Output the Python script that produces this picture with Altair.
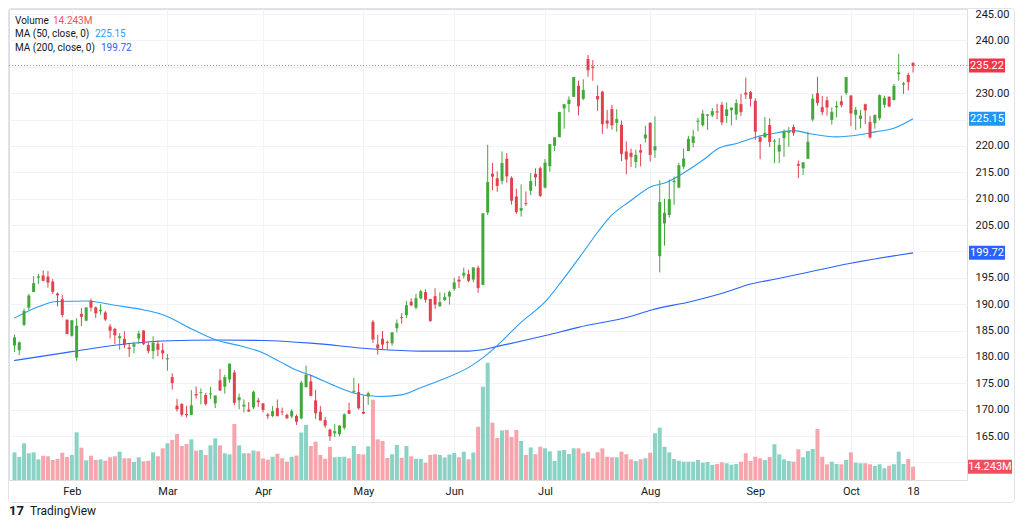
import altair as alt
import pandas as pd

# ---------------- data ----------------
opens = [182.16,181.27,186.09,189.33,192.30,195.02,195.42,195.22,194.27,192.01,190.94,187.04,
 183.99,179.86,188.15,186.86,190.64,189.39,188.65,188.42,185.77,185.32,183.55,183.42,181.79,181.94,183.48,185.01,182.24,181.10,182.51,181.27,
 179.55,176.15,170.76,171.06,169.15,169.00,172.94,173.15,172.77,172.91,171.17,175.57,174.34,175.72,177.05,171.76,170.57,170.00,170.41,171.75,
 171.19,169.08,168.79,170.29,169.59,169.03,168.70,168.80,168.34,174.26,175.36,171.75,169.61,168.03,166.21,165.52,165.35,166.54,169.88,173.37,173.33,
 169.58,172.51,186.65,182.35,183.45,182.85,182.56,185.44,187.51,187.91,190.47,189.33,191.09,192.27,190.98,191.51,189.61,190.76,191.44,
 192.90,194.64,195.40,195.69,194.65,196.90,193.65,207.37,214.74,213.85,213.37,217.59,213.93,210.39,207.72,209.15,211.50,214.69,215.77,
 212.09,216.15,220.00,221.65,227.09,227.93,229.30,231.39,228.92,236.48,235.00,229.45,230.28,224.82,227.01,224.37,224.00,218.93,218.70,216.96,219.19,221.44,
 224.37,219.15,199.09,205.30,206.90,213.11,212.10,216.07,219.01,220.57,224.60,223.92,225.72,225.77,226.52,227.79,225.66,226.76,225.95,227.92,230.10,230.19,
 228.55,221.66,221.63,223.95,220.82,218.92,221.46,222.50,223.58,216.54,215.75,217.55,224.99,229.97,227.34,228.65,224.93,227.30,228.46,230.04,
 229.52,225.89,225.14,227.90,224.50,224.30,225.23,227.78,229.30,228.70,233.61,231.60,233.43,235.70]

highs = [184.26,182.93,189.14,191.95,195.33,195.75,196.38,196.27,194.76,192.20,191.80,187.10,
 186.95,187.33,189.25,189.31,191.05,189.54,189.99,188.67,186.21,185.53,184.49,184.85,182.43,182.89,184.96,185.04,182.76,183.92,183.12,182.57,
 180.53,176.90,172.04,171.24,170.73,173.70,174.38,174.03,173.19,174.31,172.62,177.71,176.61,178.67,177.49,173.05,171.94,171.42,173.60,172.23,
 171.25,169.34,170.68,171.92,170.39,169.20,170.08,169.09,175.46,178.36,176.63,173.76,170.65,168.64,166.40,167.26,167.05,169.30,171.34,176.03,174.99,
 172.71,173.42,187.00,184.20,184.90,183.07,184.66,187.10,188.30,190.65,191.10,191.92,192.73,192.82,191.00,193.00,192.25,192.18,192.57,
 194.99,195.32,196.90,196.50,196.94,197.30,207.16,220.20,216.75,215.17,218.95,218.63,214.24,211.89,212.70,211.38,214.86,215.74,216.07,
 217.51,220.38,221.55,226.45,227.85,229.40,233.08,232.39,232.64,237.23,236.27,231.46,230.44,226.80,227.78,226.94,224.80,220.85,219.49,219.30,220.33,223.82,
 224.48,225.60,213.50,209.99,213.64,214.20,216.78,219.51,221.89,223.03,225.35,226.83,225.99,227.17,227.98,228.34,228.22,227.28,228.85,229.86,232.92,230.40,
 229.00,221.78,225.48,225.24,221.27,221.48,223.09,223.55,224.04,217.22,216.90,222.71,229.82,233.09,229.45,229.35,227.29,228.50,229.52,233.00,
 229.65,227.37,226.81,228.00,225.69,225.98,229.75,229.50,229.41,231.73,237.49,232.12,233.85,235.90]

lows = [180.93,180.30,185.83,188.82,192.26,193.83,194.34,193.11,191.94,189.58,187.47,184.35,
 183.82,179.25,185.84,186.77,188.61,187.35,188.00,186.79,183.51,182.44,181.35,181.67,180.00,180.66,182.46,182.23,180.65,179.56,180.13,179.53,
 177.38,173.79,169.62,168.68,168.49,168.94,172.05,171.01,170.76,172.05,170.29,173.52,173.03,175.09,170.84,170.06,169.45,169.58,170.11,170.51,
 169.48,168.23,168.58,168.82,168.95,168.24,168.35,167.11,168.16,174.21,172.50,168.27,168.00,166.55,164.08,164.77,164.92,166.21,169.18,173.10,170.00,
 169.11,170.89,182.66,180.42,181.32,181.45,182.11,184.62,186.29,187.37,189.66,189.01,190.92,190.27,186.63,189.10,189.51,190.63,189.91,
 192.52,193.03,194.87,194.17,194.14,192.15,193.63,206.90,211.60,211.30,212.72,213.00,208.85,207.11,206.59,208.61,210.64,212.35,210.30,
 211.92,215.10,219.03,221.65,223.25,226.37,229.25,225.77,228.68,233.09,232.33,226.64,222.27,223.28,223.09,222.68,217.13,214.62,216.01,215.75,216.12,220.63,
 217.02,217.71,196.00,201.07,206.39,208.83,211.97,215.60,219.01,219.70,222.76,223.65,223.04,225.45,225.05,223.90,224.33,223.89,224.89,225.68,228.88,227.48,
 221.17,217.48,221.52,219.77,216.71,216.73,217.89,219.82,221.91,213.92,214.50,217.54,224.63,227.62,225.81,225.73,224.02,225.41,227.30,229.65,
 223.74,223.02,223.32,224.13,221.33,223.25,224.83,227.17,227.34,228.60,232.37,229.84,230.52,233.90]

closes = [183.63,182.68,188.63,191.56,193.89,195.18,194.50,194.17,192.42,191.73,188.04,184.40,
 186.86,185.85,187.68,189.30,189.41,188.32,188.85,187.15,185.04,184.15,183.86,182.31,181.56,182.32,184.37,182.52,181.16,182.63,181.42,180.75,
 179.66,175.10,170.12,169.12,169.00,170.73,172.75,173.23,171.13,173.00,172.62,173.72,176.08,178.67,171.37,172.28,170.85,169.71,173.31,171.48,
 170.03,168.84,169.65,168.82,169.58,168.45,169.67,167.78,175.04,176.55,172.69,169.38,168.00,167.04,165.00,165.84,166.90,169.02,169.30,173.50,170.33,
 169.30,173.03,183.38,181.71,182.40,182.74,184.57,186.28,187.43,189.72,189.84,191.04,192.35,190.90,186.88,189.99,190.29,191.29,192.25,
 194.03,194.35,195.87,194.48,196.89,193.12,207.15,213.07,214.24,212.49,216.67,214.29,209.68,207.49,208.14,209.07,213.25,214.10,210.62,
 216.75,220.27,221.55,226.34,227.82,228.68,232.98,227.57,230.54,234.40,234.82,228.88,224.18,224.31,223.96,225.01,218.54,217.49,217.96,218.24,218.80,222.08,
 218.36,219.86,209.27,207.23,209.82,213.31,216.24,217.53,221.27,221.72,224.72,226.05,225.89,226.51,226.40,224.53,226.84,227.18,228.03,226.49,229.79,229.00,
 222.77,220.85,222.38,220.82,220.91,220.11,222.66,222.77,222.50,216.32,216.79,220.69,228.87,228.20,226.47,227.37,226.37,227.52,227.79,233.00,
 226.21,226.78,225.67,226.80,221.69,225.77,229.54,229.04,227.55,231.30,233.85,231.78,232.15,235.22]

volumes = [29.6,24.6,39.3,28.6,29.6,22.1,26.0,25.4,21.4,22.5,29.2,24.6,
 26.8,51.0,34.6,21.1,26.0,21.4,22.1,20.7,24.3,25.4,30.3,23.2,23.2,19.3,24.3,20.0,20.7,29.6,25.4,33.9,
 39.3,42.8,49.2,36.4,38.5,43.5,31.4,32.1,26.8,37.1,44.6,37.1,28.6,27.5,59.9,37.1,28.6,28.6,31.6,30.7,
 23.0,21.7,24.9,28.1,23.2,19.6,24.9,26.2,50.8,59.0,36.4,41.0,26.8,22.7,35.6,24.3,24.6,24.9,23.2,36.4,27.8,
 27.3,36.1,85.9,43.5,41.7,23.5,27.6,37.5,23.8,36.4,25.4,22.7,22.7,18.4,26.8,27.6,26.8,24.1,27.3,
 28.9,24.3,30.3,22.1,29.4,57.0,99.8,125.5,61.3,44.9,53.1,53.5,46.0,53.5,41.7,26.8,34.8,27.6,35.6,
 33.9,30.7,20.3,31.4,32.1,27.8,33.9,33.9,28.6,30.3,23.2,29.7,33.9,24.9,24.3,24.3,30.3,27.6,22.1,20.3,22.1,23.2,
 29.2,50.0,56.0,35.6,29.6,22.5,20.7,19.6,19.6,19.6,21.4,18.5,19.3,16.1,17.1,18.9,17.9,16.4,17.1,19.6,28.6,20.3,
 24.9,23.2,21.4,24.6,38.3,27.5,22.1,20.3,19.6,32.8,24.3,31.0,33.2,54.6,24.9,16.8,19.6,17.1,16.8,21.4,
 29.6,18.5,17.9,17.9,16.8,15.0,16.8,12.5,15.3,16.8,30.3,17.1,22.5,14.243]

ma50_idx = [-0.1, 5, 8.8, 15.3, 20.9, 27.1, 31.3, 37.5, 42.2, 47.2, 51.3, 55.5, 58.2, 62.3, 67.1, 71.2,
            76.2, 81, 85.1, 89.2, 95.4, 98.1, 100.6, 105.8, 111.4, 114.7, 118.8, 122.4, 125, 128.6, 133.3,
            136.2, 140.4, 144.5, 147.2, 151.3, 154.9, 159.6, 163.1, 166.5, 172, 176.8, 180.3, 183.8, 188]
ma50_val = [187.3, 189.5, 190.5, 190.6, 189.8, 188.9, 187.9, 185.1, 183.2, 182.1, 181.0, 179.1, 177.8, 176.4,
            174.5, 173.1, 172.5, 172.8, 174.2, 175.6, 178.2, 179.9, 181.8, 186.4, 190.8, 194.6, 199.6, 204.1,
            206.9, 209.4, 212.3, 213.0, 215.1, 217.6, 219.5, 220.5, 221.6, 222.5, 222.9, 222.3, 221.7, 222.1,
            222.7, 223.3, 225.15]

ma200_idx = [-0.1, 12, 21, 31, 43, 52, 62, 75, 85, 95, 97.5, 100.6, 111.3, 118, 128.6, 133.3, 141.6, 148.6,
             154, 159.6, 165.8, 174.7, 188]
ma200_val = [179.3, 181.0, 182.2, 183.0, 183.2, 183.1, 182.6, 181.5, 181.1, 181.1, 181.3, 181.9, 184.1, 185.6,
             187.6, 188.9, 190.5, 192.2, 193.8, 194.8, 196.0, 197.7, 199.72]

month_ticks = [12, 32, 52, 73, 92, 111, 133, 155, 175, 188]
month_labels = ["Feb", "Mar", "Apr", "May", "Jun", "Jul", "Aug", "Sep", "Oct", "18"]
price_ticks = [160, 165, 170, 175, 180, 185, 190, 195, 200, 205, 210, 215, 220, 225, 230, 235, 240, 245]
# labels covered by the value boxes on the price scale
hidden_price_labels = [160, 200, 225, 235]

# ---------------- chart ----------------
n = min(len(opens), len(highs), len(lows), len(closes), len(volumes))
bars = pd.DataFrame({
    "i": list(range(n)),
    "open": opens[:n], "high": highs[:n], "low": lows[:n],
    "close": closes[:n], "volume": volumes[:n],
})

FONT = "Roboto"
UP, DOWN = "#43a83a", "#e2424f"
VUP, VDOWN = "#8ad2c4", "#f7a5ac"
MA50_C, MA200_C = "#2a9df4", "#2962ff"
RED_LBL = "#f23645"
GRID = "#f0f3fa"
TXT = "#131722"

PLOT_W, PLOT_H = 958, 471
x_scale = alt.Scale(domain=[-0.1035, 198.24], nice=False, zero=False)
p_scale = alt.Scale(domain=[156.66, 245.948], nice=False, zero=False)
v_scale = alt.Scale(domain=[0, 504], nice=False, zero=True)

x_expr = " : ".join(f"datum.value == {v} ? '{l}'" for v, l in zip(month_ticks, month_labels)) + " : ''"
x_axis = alt.Axis(values=month_ticks, labelExpr=x_expr, title=None, grid=True, gridColor=GRID,
                  domain=False, ticks=False, labelPadding=5, labelFontSize=11, labelColor=TXT,
                  labelFont=FONT, labelAngle=0, labelOverlap=False, labelFlush=False)
hide = " || ".join(f"datum.value == {v}" for v in hidden_price_labels)
y_axis = alt.Axis(orient="right", values=price_ticks, format=".2f", labelExpr=f"({hide}) ? '' : datum.label",
                  title=None, grid=True, gridColor=GRID, domain=False, ticks=False, labelPadding=8,
                  labelFontSize=11, labelColor=TXT, labelFont=FONT, labelOverlap=False, labelFlush=False)

Xi = alt.X("i:Q", scale=x_scale, axis=x_axis)
up_test = "datum.close >= datum.open"
cond_c = alt.condition(up_test, alt.value(UP), alt.value(DOWN))
cond_v = alt.condition(up_test, alt.value(VUP), alt.value(VDOWN))

# volume pane
vol = alt.Chart(bars).mark_bar(size=4).encode(
    x=Xi, y=alt.Y("volume:Q", scale=v_scale, axis=None), color=cond_v)


def label_box(value, text, color, width, cx, scale, axis):
    df = pd.DataFrame({"v": [value], "t": [text]})
    h = 7.0 / (width / 2.0)
    shape = f"M-1,-{h:.4f}L1,-{h:.4f}L1,{h:.4f}L-1,{h:.4f}Z"
    rect = alt.Chart(df).mark_point(shape=shape, filled=True, size=width * width, color=color,
                                    opacity=1, strokeWidth=0).encode(
        x=alt.value(cx), y=alt.Y("v:Q", scale=scale, axis=axis))
    lbl = alt.Chart(df).mark_text(color="white", fontSize=11, font=FONT, align="center",
                                  baseline="middle").encode(
        x=alt.value(cx), y=alt.Y("v:Q", scale=scale, axis=axis), text="t:N")
    return [rect, lbl]


last_vol = volumes[n - 1]
vol_text = f"{last_vol:.3f}M"
vol_group = alt.layer(vol, *label_box(last_vol, vol_text, "#ef4f5e", 44, 981, v_scale, None))

# price pane
ma200 = alt.Chart(pd.DataFrame({"i": ma200_idx, "v": ma200_val})).mark_line(
    color=MA200_C, strokeWidth=1.1, interpolate="monotone").encode(
    x=Xi, y=alt.Y("v:Q", scale=p_scale, axis=y_axis))
ma50 = alt.Chart(pd.DataFrame({"i": ma50_idx, "v": ma50_val})).mark_line(
    color=MA50_C, strokeWidth=1.1, interpolate="monotone").encode(
    x=Xi, y=alt.Y("v:Q", scale=p_scale, axis=y_axis))
wick = alt.Chart(bars).mark_rule(strokeWidth=1).encode(
    x=Xi, y=alt.Y("low:Q", scale=p_scale, axis=y_axis), y2="high:Q", color=cond_c)
body = alt.Chart(bars).mark_bar(size=3).encode(
    x=Xi, y=alt.Y("open:Q", scale=p_scale, axis=y_axis), y2="close:Q", color=cond_c)
ctick = alt.Chart(bars).mark_tick(orient="horizontal", size=3, thickness=1).encode(
    x=Xi, y=alt.Y("close:Q", scale=p_scale, axis=y_axis), color=cond_c)

last_close = closes[n - 1]
pline = alt.Chart(pd.DataFrame({"v": [last_close]})).mark_rule(
    color=RED_LBL, strokeDash=[1, 2], strokeWidth=1, opacity=0.75).encode(
    y=alt.Y("v:Q", scale=p_scale, axis=y_axis), x=alt.value(0), x2=alt.value(960))

boxes = (label_box(last_close, f"{last_close:.2f}", RED_LBL, 36, 978, p_scale, y_axis)
         + label_box(ma50_val[-1], f"{ma50_val[-1]:.2f}", "#2196f3", 36, 978, p_scale, y_axis)
         + label_box(ma200_val[-1], f"{ma200_val[-1]:.2f}", MA200_C, 36, 978, p_scale, y_axis))


def txt(s, x, y, color, size=10, weight="normal"):
    return alt.Chart(pd.DataFrame({"t": [s]})).mark_text(
        align="left", baseline="middle", fontSize=size, font=FONT, color=color,
        fontWeight=weight).encode(x=alt.value(x), y=alt.value(y), text="t:N")


legend = [
    txt("Volume", 6, 11.7, TXT), txt(vol_text, 44, 11.7, "#ef5360"),
    txt("MA (50, close, 0)", 6, 25.3, TXT), txt(f"{ma50_val[-1]:.2f}", 86, 25.3, MA50_C),
    txt("MA (200, close, 0)", 6, 38.7, TXT), txt(f"{ma200_val[-1]:.2f}", 92, 38.7, MA200_C),
]
footer = [txt("17", 0, 502, TXT, 13, "bold"), txt("TradingView", 21, 502, TXT, 12)]

border = alt.Chart(pd.DataFrame({"a": [0]})).mark_rect(
    fillOpacity=0, stroke="#e0e3eb", strokeWidth=1, cornerRadius=3).encode(
    x=alt.value(-0.5), x2=alt.value(1005.5), y=alt.value(-0.5), y2=alt.value(493.5))

price_group = alt.layer(ma200, ma50, wick, body, ctick, pline, *boxes, *legend, *footer)

chart = alt.layer(border, vol_group, price_group).resolve_scale(y="independent").properties(
    width=PLOT_W, height=PLOT_H,
    padding={"left": 1, "top": 1, "right": 48, "bottom": 38},
    autosize=alt.AutoSizeParams(type="none"),
    background="white",
).configure_view(strokeWidth=0).configure(font=FONT)

chart.save("out.html", embed_options={"renderer": "svg", "actions": False})
